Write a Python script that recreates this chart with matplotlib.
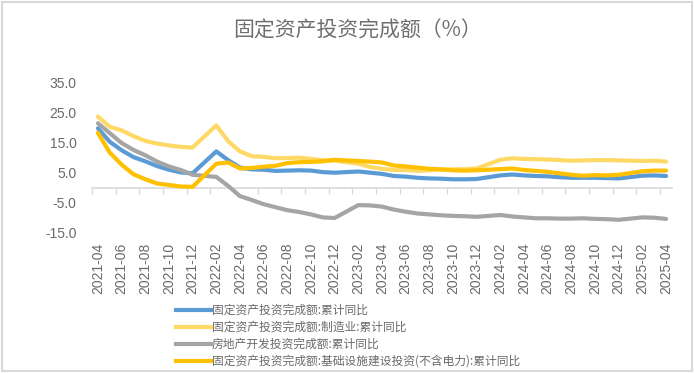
import numpy as np
import matplotlib
matplotlib.use("Agg")
import matplotlib.pyplot as plt
from matplotlib.lines import Line2D
from matplotlib.patches import Rectangle

plt.rcParams['font.family'] = ['Noto Sans CJK SC', 'DejaVu Sans']

# Monthly categories 2021-04 .. 2025-04 (January has no published value)
months = [f"{y}-{m:02d}" for y in range(2021, 2026) for m in range(1, 13)]
months = months[months.index("2021-04"):months.index("2025-04") + 1]

nan = np.nan
fai_total = [19.9, 15.4, 12.6, 10.3, 8.9, 7.3, 6.1, 5.2, 4.9,
             nan, 12.2, 9.3, 6.8, 6.2, 6.1, 5.7, 5.8, 5.9, 5.8, 5.3, 5.1,
             nan, 5.5, 5.1, 4.7, 4.0, 3.8, 3.4, 3.2, 3.1, 2.9, 2.9, 3.0,
             nan, 4.2, 4.5, 4.2, 4.0, 3.9, 3.6, 3.4, 3.4, 3.4, 3.3, 3.2,
             nan, 4.1, 4.2, 4.0]
fai_manuf = [23.8, 20.4, 19.2, 17.3, 15.7, 14.8, 14.2, 13.7, 13.5,
             nan, 20.9, 15.6, 12.2, 10.6, 10.4, 9.9, 10.0, 10.1, 9.7, 9.3, 9.1,
             nan, 8.1, 7.0, 6.4, 6.0, 6.0, 5.7, 5.9, 6.2, 6.2, 6.3, 6.5,
             nan, 9.4, 9.9, 9.7, 9.6, 9.5, 9.3, 9.1, 9.2, 9.3, 9.3, 9.2,
             nan, 9.0, 9.1, 8.8]
realestate = [21.6, 18.3, 15.0, 12.7, 10.9, 8.8, 7.2, 6.0, 4.4,
              nan, 3.7, 0.7, -2.7, -4.0, -5.4, -6.4, -7.4, -8.0, -8.8, -9.8, -10.0,
              nan, -5.7, -5.8, -6.2, -7.2, -7.9, -8.5, -8.8, -9.1, -9.3, -9.4, -9.6,
              nan, -9.0, -9.5, -9.8, -10.1, -10.1, -10.2, -10.2, -10.1, -10.3, -10.4, -10.6,
              nan, -9.8, -9.9, -10.3]
infra = [18.4, 11.8, 7.8, 4.6, 2.9, 1.5, 1.0, 0.5, 0.4,
         nan, 8.1, 8.5, 6.5, 6.7, 7.1, 7.4, 8.3, 8.6, 8.7, 8.9, 9.4,
         nan, 9.0, 8.8, 8.5, 7.5, 7.2, 6.8, 6.4, 6.2, 5.9, 5.8, 5.9,
         nan, 6.3, 6.5, 6.0, 5.7, 5.4, 4.9, 4.4, 4.1, 4.3, 4.2, 4.4,
         nan, 5.6, 5.8, 5.8]

series_names = ["固定资产投资完成额:累计同比",
                "固定资产投资完成额:制造业:累计同比",
                "房地产开发投资完成额:累计同比",
                "固定资产投资完成额:基础设施建设投资(不含电力):累计同比"]
series_vals = [fai_total, fai_manuf, realestate, infra]
colors = ["#5B9BD5", "#FFD966", "#A5A5A5", "#FFC000"]

title = "固定资产投资完成额（%）"
yticks = [35.0, 25.0, 15.0, 5.0, -5.0, -15.0]

W, H = 694, 373
fig = plt.figure(figsize=(W / 100, H / 100), dpi=100)
fig.patch.set_facecolor("white")

left, right, top, bottom = 92, 672, 83, 233
ax = fig.add_axes([left / W, 1 - bottom / H, (right - left) / W, (bottom - top) / H])
ax.set_facecolor("none")

n = len(months)
xc = np.arange(n) + 0.5
for vals, col in zip(series_vals, colors):
    v = np.array(vals, dtype=float)
    m = ~np.isnan(v)
    ax.plot(xc[m], v[m], color=col, lw=3.0, solid_capstyle="round",
            solid_joinstyle="round")

ax.set_xlim(0, n)
ax.set_ylim(-15, 35)
for s in ax.spines.values():
    s.set_visible(False)

ax.set_yticks(yticks)
ax.set_yticklabels([f"{t:.1f}" for t in yticks], family="Liberation Sans",
                   fontsize=10, color="#6A6A6A")
ax.tick_params(axis="y", length=0, pad=11)

ax.set_xticks(xc[::2])
ax.set_xticklabels(months[::2], rotation=90, family="Liberation Sans",
                   fontsize=10, color="#6A6A6A")
ax.tick_params(axis="x", length=0, pad=7)

# category axis line crossing at 0 with tick marks between categories
zero_frac = (0 - (-15)) / (35 - (-15))
sec = ax.secondary_xaxis(zero_frac)
sec.set_xticks(np.arange(0, n + 1, 2))
sec.set_xticklabels([])
sec.tick_params(axis="x", direction="out", length=4, width=1, color="#D9D9D9")
sec.spines["bottom"].set_color("#D9D9D9")
sec.spines["bottom"].set_linewidth(1.2)
for k in ("top", "left", "right"):
    if k in sec.spines:
        sec.spines[k].set_visible(False)

fig.text(358 / W, 1 - 31 / H, title, ha="center", va="center",
         fontsize=15, color="#6E6E6E")

handles = [Line2D([], [], color=c, lw=3.0) for c in colors]
leg = fig.legend(handles, series_names, loc="upper left",
                 bbox_to_anchor=(176 / W, 1 - 304 / H), frameon=False,
                 fontsize=8.5, handlelength=2.95, handletextpad=0.1,
                 labelspacing=0.33, borderpad=0, borderaxespad=0)
for t in leg.get_texts():
    t.set_color("#6A6A6A")

fig.patches.append(Rectangle((1.5 / W, 2.5 / H), 690.5 / W, 369 / H,
                             transform=fig.transFigure, fill=False,
                             edgecolor="#D9D9D9", lw=1.5))

fig.savefig("out.png", dpi=100, facecolor="white")
